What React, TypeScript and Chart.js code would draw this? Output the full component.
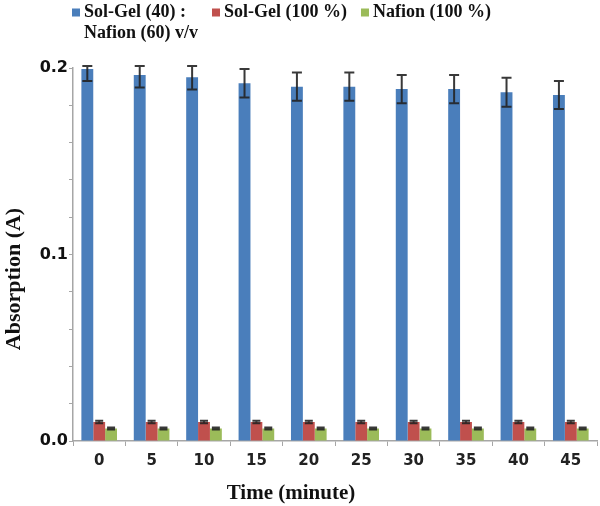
import React, { useEffect, useRef } from 'react';
import { Chart, registerables } from 'chart.js';

Chart.register(...registerables);

const categories = ['0', '5', '10', '15', '20', '25', '30', '35', '40', '45'];

const seriesLabels: (string | string[])[] = [
  ['Sol-Gel (40) :', 'Nafion (60) v/v'],
  'Sol-Gel (100 %)',
  'Nafion (100 %)',
];

const solGelNafion = [0.1995, 0.1962, 0.195, 0.1918, 0.19, 0.19, 0.1887, 0.1887, 0.187, 0.1855];
const solGelNafionErr = [0.0065, 0.0067, 0.0065, 0.0076, 0.0076, 0.0076, 0.0076, 0.0076, 0.0078, 0.0075];

const solGel = [0.0102, 0.0102, 0.0102, 0.0102, 0.0102, 0.0102, 0.0102, 0.0102, 0.0102, 0.0102];
const solGelErr = [0.0007, 0.0007, 0.0007, 0.0007, 0.0007, 0.0007, 0.0007, 0.0007, 0.0007, 0.0007];

const nafion = [0.0067, 0.0067, 0.0067, 0.0067, 0.0067, 0.0067, 0.0067, 0.0067, 0.0067, 0.0067];
const nafionErr = [0.0006, 0.0006, 0.0006, 0.0006, 0.0006, 0.0006, 0.0006, 0.0006, 0.0006, 0.0006];

const yTickLabels = ['0.0', '0.1', '0.2'];
const xTitle = 'Time (minute)';
const yTitle = 'Absorption (A)';

const colors = ['#4A7EBB', '#C0504D', '#9BBB59'];
const errors = [solGelNafionErr, solGelErr, nafionErr];

const serif = '"Liberation Serif", "Times New Roman", serif';
const sans = '"DejaVu Sans", Verdana, sans-serif';

const errorBarPlugin = {
  id: 'errorBars',
  afterDatasetsDraw(chart: any) {
    const ctx = chart.ctx;
    const y = chart.scales.y;
    const area = chart.chartArea;
    ctx.save();
    ctx.strokeStyle = 'rgba(35,35,35,0.9)';
    ctx.lineWidth = 2;
    chart.data.datasets.forEach((ds: any, i: number) => {
      const meta = chart.getDatasetMeta(i);
      const errs = errors[i];
      meta.data.forEach((bar: any, j: number) => {
        const v = ds.data[j] as number;
        const e = errs[j];
        const x = bar.x;
        let top = y.getPixelForValue(v + e);
        const bot = y.getPixelForValue(v - e);
        if (top < area.top - 2) top = area.top - 2;
        const hw = i === 0 ? 5 : 4;
        ctx.beginPath();
        ctx.moveTo(x, top);
        ctx.lineTo(x, bot);
        ctx.moveTo(x - hw, top);
        ctx.lineTo(x + hw, top);
        ctx.moveTo(x - hw, bot);
        ctx.lineTo(x + hw, bot);
        ctx.stroke();
      });
    });
    ctx.restore();
  },
};

const textPlugin = {
  id: 'customText',
  afterDraw(chart: any) {
    const ctx = chart.ctx;
    ctx.save();
    // legend
    ctx.font = `bold 18px ${serif}`;
    ctx.textBaseline = 'alphabetic';
    ctx.textAlign = 'left';
    let x = 72;
    chart.data.datasets.forEach((ds: any) => {
      const lines: string[] = Array.isArray(ds.label) ? ds.label : [ds.label];
      ctx.fillStyle = ds.backgroundColor;
      ctx.fillRect(x, 8.5, 8, 8);
      ctx.fillStyle = '#111';
      let w = 0;
      lines.forEach((ln, k) => {
        ctx.fillText(ln, x + 12, 17 + k * 21);
        w = Math.max(w, ctx.measureText(ln).width);
      });
      x = x + 12 + w + 14;
    });
    // x-axis title
    ctx.font = `bold 21px ${serif}`;
    ctx.textAlign = 'center';
    ctx.fillStyle = '#111';
    ctx.fillText(xTitle, 291, 499);
    // y-axis title
    ctx.translate(14, 279);
    ctx.rotate(-Math.PI / 2);
    ctx.font = `bold 22px ${serif}`;
    ctx.textBaseline = 'middle';
    ctx.fillText(yTitle, 0, 0);
    ctx.restore();
  },
};

export default function App() {
  const ref = useRef<HTMLCanvasElement>(null);

  useEffect(() => {
    if (!ref.current) return;
    const chart = new Chart(ref.current, {
      type: 'bar',
      data: {
        labels: categories,
        datasets: [
          { label: seriesLabels[0] as any, data: solGelNafion, backgroundColor: colors[0] },
          { label: seriesLabels[1] as any, data: solGel, backgroundColor: colors[1] },
          { label: seriesLabels[2] as any, data: nafion, backgroundColor: colors[2] },
        ],
      },
      plugins: [errorBarPlugin, textPlugin],
      options: {
        responsive: false,
        animation: false,
        events: [],
        layout: { padding: { left: 0, right: 3, top: 68, bottom: 0 } },
        datasets: { bar: { categoryPercentage: 0.68, barPercentage: 1.0 } } as any,
        plugins: {
          legend: { display: false },
          tooltip: { enabled: false },
        },
        scales: {
          x: {
            grid: {
              display: true,
              drawOnChartArea: false,
              drawTicks: true,
              tickLength: 5,
              color: '#A6A6A6',
              offset: true,
            },
            border: { display: true, color: '#A6A6A6', width: 1.5 },
            ticks: {
              color: '#222',
              font: { family: sans, size: 15, weight: 'bold' },
              padding: 6,
              maxRotation: 0,
            },
            afterFit: (scale: any) => {
              scale.height = 65;
            },
          },
          y: {
            min: 0,
            max: 0.2,
            grid: {
              display: true,
              drawOnChartArea: false,
              drawTicks: true,
              tickLength: 4,
              color: '#A6A6A6',
            },
            border: { display: true, color: '#A6A6A6', width: 1.5 },
            ticks: {
              stepSize: 0.02,
              autoSkip: false,
              color: '#111',
              padding: 1,
              font: { family: sans, size: 16, weight: 'bold' },
              callback: (v: any) => {
                const n = Number(v);
                const idx = Math.round(n * 10);
                if (Math.abs(n * 10 - idx) < 1e-6 && yTickLabels[idx] !== undefined) return yTickLabels[idx];
                return '';
              },
            },
            afterFit: (scale: any) => {
              scale.width = 73;
            },
          },
        },
      },
    });
    return () => chart.destroy();
  }, []);

  return (
    <div style={{ position: 'fixed', left: 0, top: 0, width: 600, height: 506, background: '#fff' }}>
      <canvas ref={ref} width={600} height={506} style={{ display: 'block', width: 600, height: 506 }} />
    </div>
  );
}
